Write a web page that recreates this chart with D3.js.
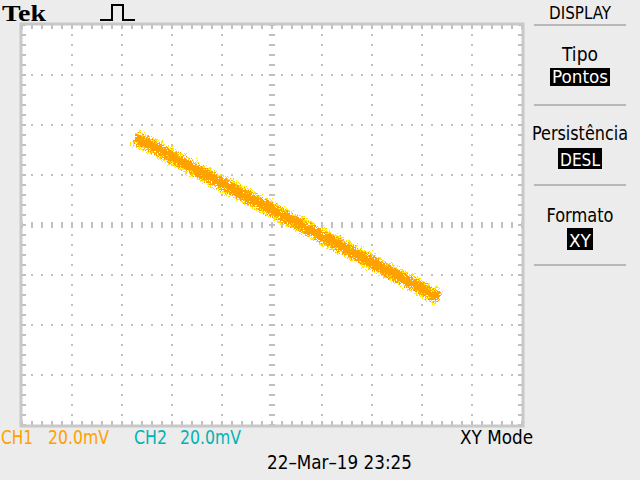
<!DOCTYPE html>
<html><head><meta charset="utf-8">
<script src="https://cdn.jsdelivr.net/npm/d3@7"></script>
<style>
html,body{margin:0;padding:0;background:#ececec;}
svg{display:block;}
text{font-family:"DejaVu Sans Condensed","DejaVu Sans",sans-serif;}
</style></head>
<body>
<script>
// XY trace samples: CH1 (X, mV) and CH2 (Y, mV)
const ch1mV = [-55.6, -48.0, -28.8, 0.0, 31.2, 58.0, 66.0];
const ch2mV = [35.6, 32.0, 21.6, 6.4, -10.0, -24.0, -28.4];
const xDivs = 10, yDivs = 8, voltsPerDiv = 20;
const menuTitles = ["Tipo", "Persistência", "Formato"];
const menuValues = ["Pontos", "DESL", "XY"];
const ch1Name = "CH1", ch1Scale = "20.0mV", ch2Name = "CH2", ch2Scale = "20.0mV";
const modeLabel = "XY Mode", dateLabel = "22\u2013Mar\u201319 23:25";

const W = 640, H = 480;
const svg = d3.select("body").append("svg").attr("width", W).attr("height", H);
svg.append("rect").attr("width", W).attr("height", H).attr("fill", "#ececec");

const L = 22, R = 522, T = 25, B = 425;
const x = d3.scaleLinear().domain([-xDivs/2*voltsPerDiv, xDivs/2*voltsPerDiv]).range([L, R]);
const y = d3.scaleLinear().domain([-yDivs/2*voltsPerDiv, yDivs/2*voltsPerDiv]).range([B, T]);

svg.append("rect").attr("x", L).attr("y", T).attr("width", R-L).attr("height", B-T).attr("fill", "#ffffff");

const g = svg.append("g");
const gc = "#c0c0c0";
const minor = d3.range(-xDivs/2*voltsPerDiv, xDivs/2*voltsPerDiv + 0.01, voltsPerDiv/5);
const minorY = d3.range(-yDivs/2*voltsPerDiv, yDivs/2*voltsPerDiv + 0.01, voltsPerDiv/5);
const majX = d3.range(-xDivs/2+1, xDivs/2).map(d => d*voltsPerDiv);
const majY = d3.range(-yDivs/2+1, yDivs/2).map(d => d*voltsPerDiv);
majX.forEach(vx => minorY.forEach(vy => g.append("rect").attr("x", Math.round(x(vx))-1).attr("y", Math.round(y(vy))-1).attr("width", 2).attr("height", 2).attr("fill", gc)));
majY.forEach(vy => minor.forEach(vx => g.append("rect").attr("x", Math.round(x(vx))-1).attr("y", Math.round(y(vy))-1).attr("width", 2).attr("height", 2).attr("fill", gc)));
minorY.forEach(vy => g.append("rect").attr("x", x(0)-3).attr("y", Math.round(y(vy))-1).attr("width", 6).attr("height", 2).attr("fill", gc));
minor.forEach(vx => g.append("rect").attr("x", Math.round(x(vx))-1).attr("y", y(0)-3).attr("width", 2).attr("height", 6).attr("fill", gc));
minor.forEach(vx => {
  g.append("rect").attr("x", Math.round(x(vx))-1).attr("y", T).attr("width", 2).attr("height", 4).attr("fill", gc);
  g.append("rect").attr("x", Math.round(x(vx))-1).attr("y", B-4).attr("width", 2).attr("height", 4).attr("fill", gc);
});
minorY.forEach(vy => {
  g.append("rect").attr("x", L).attr("y", Math.round(y(vy))-1).attr("width", 4).attr("height", 2).attr("fill", gc);
  g.append("rect").attr("x", R-4).attr("y", Math.round(y(vy))-1).attr("width", 4).attr("height", 2).attr("fill", gc);
});
g.append("rect").attr("x", L-1).attr("y", T-1).attr("width", R-L+2).attr("height", B-T+2)
  .attr("fill", "none").attr("stroke", "#c8c8c8").attr("stroke-width", 3);

// trace
const defs = svg.append("defs");
const f = defs.append("filter").attr("id", "speck").attr("x", "-10%").attr("y", "-10%").attr("width", "120%").attr("height", "120%");
f.append("feTurbulence").attr("type", "turbulence").attr("baseFrequency", 0.6).attr("numOctaves", 2).attr("seed", 3).attr("result", "n");
f.append("feDisplacementMap").attr("in", "SourceGraphic").attr("in2", "n").attr("scale", 8).attr("xChannelSelector", "R").attr("yChannelSelector", "G");
const pts = ch1mV.map((v, i) => [x(v), y(ch2mV[i])]);
const line = d3.line().curve(d3.curveLinear);
const tr = svg.append("g").attr("filter", "url(#speck)").attr("shape-rendering", "crispEdges");
tr.append("path").attr("d", line(pts)).attr("fill", "none").attr("stroke", "#ffe600").attr("stroke-width", 16).attr("stroke-dasharray", "2 1 1 1").attr("stroke-linecap", "butt");
tr.append("path").attr("d", line(pts)).attr("fill", "none").attr("stroke", "#ffa200").attr("stroke-width", 12).attr("stroke-dasharray", "3 1 2 1").attr("stroke-linecap", "butt");
tr.append("path").attr("d", line(pts)).attr("fill", "none").attr("stroke", "#ffa200").attr("stroke-width", 7);

// text helper: fits text to the measured width of the original
function txt(px, py, s, w, opts = {}) {
  const t = svg.append("text").attr("x", px).attr("y", py).text(s)
    .style("font-size", (opts.size || 20) + "px").attr("fill", opts.fill || "#000")
    .attr("text-anchor", opts.anchor || "start");
  if (w) t.attr("textLength", w).attr("lengthAdjust", "spacingAndGlyphs");
  return t;
}

// header
svg.append("text").attr("x", 2).attr("y", 21).text("Tek")
  .style("font-family", "'Liberation Serif','DejaVu Serif',serif").style("font-weight", "bold").style("font-size", "23px")
  .attr("textLength", 44).attr("lengthAdjust", "spacingAndGlyphs").attr("fill", "#000");
svg.append("path").attr("d", "M100,20H112V5H123V20H135").attr("fill", "none").attr("stroke", "#000").attr("stroke-width", 2);

// menu
const mx = 580;
txt(mx, 19, "DISPLAY", 62, {anchor: "middle", size: 18});
const sepY = [25, 105, 185, 265];
sepY.forEach(s => svg.append("line").attr("x1", 534).attr("x2", 626).attr("y1", s).attr("y2", s).attr("stroke", "#b8b8b8").attr("stroke-width", 2));
const titleW = [36, 96, 67], valW = [56, 40, 22];
const titleBase = [61, 140, 222];
const boxTop = [68, 148, 228], boxH = [18, 21, 22];
menuTitles.forEach((t, i) => {
  txt(mx, titleBase[i], t, titleW[i], {anchor: "middle", size: 19});
  svg.append("rect").attr("x", mx - valW[i]/2 - 2).attr("y", boxTop[i]).attr("width", valW[i] + 4).attr("height", boxH[i]).attr("fill", "#000");
  txt(mx, boxTop[i] + boxH[i] - 3, menuValues[i], valW[i], {anchor: "middle", fill: "#fff", size: 17});
});

// footer
txt(1, 444, ch1Name, 32, {fill: "#ffa000"});
txt(48, 444, ch1Scale, 61, {fill: "#ffa000"});
txt(134, 444, ch2Name, 33, {fill: "#00b4b4"});
txt(180, 444, ch2Scale, 61, {fill: "#00b4b4"});
txt(460, 444, modeLabel, 73);
txt(267, 469, dateLabel, 145);
</script>
</body></html>
